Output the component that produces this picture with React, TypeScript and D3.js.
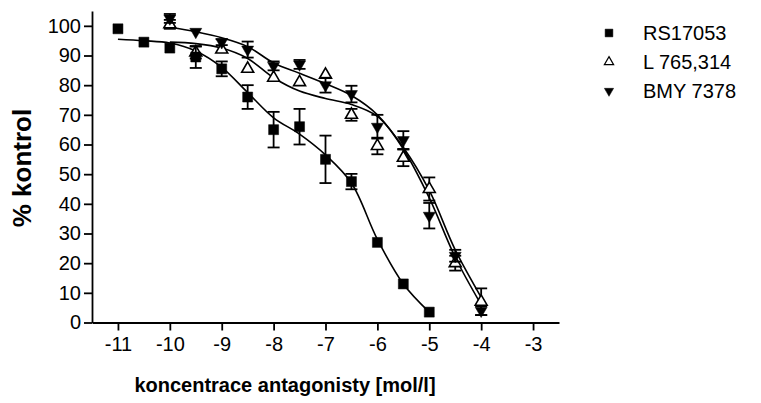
import { useRef, useEffect } from 'react';
import * as d3 from 'd3';

// x = log concentration, y = % of control
const concRS = [-11, -10.5, -10, -9.5, -9, -8.5, -8, -7.5, -7, -6.5, -6, -5.5, -5];
const meanRS = [99, 94.5, 92.5, 89.5, 85.5, 76, 65, 66, 55, 47.5, 27, 13, 3.5];
const errRS = [0, 0, 0, 3.7, 2.5, 4, 6, 6, 8, 2.6, 0, 0, 0];

const concL = [-10, -9.5, -9, -8.5, -8, -7.5, -7, -6.5, -6, -5.5, -5, -4.5, -4];
const meanL = [100.5, 91, 92, 85.5, 82.5, 81, 83.5, 70, 59.5, 55.5, 45, 20, 7];
const errL = [1.5, 2, 0, 0, 0, 0, 0, 2, 2.8, 2.8, 3.9, 2.5, 4.5];

const concBMY = [-10, -9.5, -9, -8.5, -8, -7.5, -7, -6.5, -6, -5.5, -5, -4.5, -4];
const meanBMY = [102.5, 98, 94.5, 92, 86.5, 87, 80, 77, 66, 61.5, 36, 22.5, 4];
const errBMY = [1.5, 0, 1, 2.7, 1.5, 1.5, 2.5, 2.8, 4, 3, 4.3, 2, 1.5];

// fitted curves
const fitRS = [[-11, 95.5], [-10.5, 95], [-10, 94.2], [-9.5, 91.5], [-9, 86], [-8.5, 77.5], [-8, 69], [-7.5, 63.5], [-7, 56.5], [-6.5, 47], [-6, 28], [-5.5, 13], [-5, 3.5]];
const fitL = [[-10, 94.5], [-9.5, 94], [-9, 92.5], [-8.5, 89], [-8, 82.5], [-7.5, 78], [-7, 75.5], [-6.5, 73.5], [-6, 69.5], [-5.5, 59], [-5, 44.5], [-4.5, 24.5], [-4, 8.5]];
const fitBMY = [[-10, 99.5], [-9.5, 98], [-9, 96], [-8.5, 93], [-8, 87.5], [-7.5, 84], [-7, 80.5], [-6.5, 76.5], [-6, 70], [-5.5, 58.5], [-5, 42], [-4.5, 22], [-4, 6]];

const xTicks = [-11, -10, -9, -8, -7, -6, -5, -4, -3];
const yTicks = [0, 10, 20, 30, 40, 50, 60, 70, 80, 90, 100];
const legendNames = ['RS17053', 'L 765,314', 'BMY 7378'];

export default function App() {
  const svgRef = useRef(null);

  useEffect(() => {
    const svg = d3.select(svgRef.current);
    svg.selectAll('*').remove();
    const font = 'Liberation Sans, Arial, sans-serif';

    const x = d3.scaleLinear().domain([-11.5, -2.5]).range([92, 559]);
    const y = d3.scaleLinear().domain([0, 105]).range([322.5, 11]);

    const yAxis = svg
      .append('g')
      .attr('transform', 'translate(92,0)')
      .call(d3.axisLeft(y).tickValues(yTicks).tickSize(8).tickSizeOuter(0).tickPadding(3));
    const xAxis = svg
      .append('g')
      .attr('transform', 'translate(0,322.5)')
      .call(
        d3
          .axisBottom(x)
          .tickValues(xTicks)
          .tickFormat((d) => String(d))
          .tickSize(8)
          .tickSizeOuter(0)
          .tickPadding(6)
      );
    [xAxis, yAxis].forEach((a) => {
      a.selectAll('path, line').attr('stroke', '#000').attr('stroke-width', 1.8);
      a.selectAll('text').attr('font-family', font).attr('font-size', 20).attr('fill', '#000');
    });

    svg
      .append('text')
      .attr('transform', 'translate(31,168) rotate(-90)')
      .attr('text-anchor', 'middle')
      .attr('font-family', font)
      .attr('font-weight', 'bold')
      .attr('font-size', 26)
      .text('% kontrol');
    svg
      .append('text')
      .attr('x', 285)
      .attr('y', 392)
      .attr('text-anchor', 'middle')
      .attr('font-family', font)
      .attr('font-weight', 'bold')
      .attr('font-size', 20)
      .text('koncentrace antagonisty [mol/l]');

    const line = d3
      .line()
      .x((d) => x(d[0]))
      .y((d) => y(d[1]))
      .curve(d3.curveCatmullRom.alpha(0.5));

    [fitRS, fitL, fitBMY].forEach((fit) => {
      svg
        .append('path')
        .attr('d', line(fit))
        .attr('fill', 'none')
        .attr('stroke', '#000')
        .attr('stroke-width', 1.6);
    });

    const series = [
      { conc: concL, mean: meanL, err: errL, shape: 'up' },
      { conc: concBMY, mean: meanBMY, err: errBMY, shape: 'down' },
      { conc: concRS, mean: meanRS, err: errRS, shape: 'square' },
    ];

    const markerPath = (shape, scale) =>
      shape === 'square'
        ? d3.symbol(d3.symbolSquare, 100 * scale)()
        : d3.symbol(d3.symbolTriangle, 62 * scale)();

    series.forEach((s) => {
      const g = svg.append('g');
      s.conc.forEach((c, i) => {
        const cx = x(c);
        const e = s.err[i];
        if (e > 0) {
          const y1 = y(s.mean[i] + e);
          const y2 = y(s.mean[i] - e);
          g.append('line').attr('x1', cx).attr('x2', cx).attr('y1', y1).attr('y2', y2);
          g.append('line').attr('x1', cx - 6).attr('x2', cx + 6).attr('y1', y1).attr('y2', y1);
          g.append('line').attr('x1', cx - 6).attr('x2', cx + 6).attr('y1', y2).attr('y2', y2);
        }
      });
      g.selectAll('line').attr('stroke', '#000').attr('stroke-width', 1.8);
      g.selectAll('.pt')
        .data(s.conc.map((c, i) => [c, s.mean[i]]))
        .join('path')
        .attr('class', 'pt')
        .attr('d', markerPath(s.shape, 1))
        .attr('transform', (d) => `translate(${x(d[0])},${y(d[1])})${s.shape === 'down' ? ' rotate(180)' : ''}`)
        .attr('fill', s.shape === 'up' ? '#fff' : '#000')
        .attr('stroke', '#000')
        .attr('stroke-width', s.shape === 'up' ? 1.6 : 0.5);
    });

    const legendShapes = ['square', 'up', 'down'];
    const legend = svg.append('g');
    legendNames.forEach((name, i) => {
      const ly = 33 + i * 29;
      const shape = legendShapes[i];
      legend
        .append('path')
        .attr('d', markerPath(shape, 0.6))
        .attr('transform', `translate(609,${ly})${shape === 'down' ? ' rotate(180)' : ''}`)
        .attr('fill', shape === 'up' ? '#fff' : '#000')
        .attr('stroke', '#000')
        .attr('stroke-width', shape === 'up' ? 1.2 : 0.5);
      legend
        .append('text')
        .attr('x', 643)
        .attr('y', ly + 7)
        .attr('font-family', font)
        .attr('font-size', 20)
        .text(name);
    });
  }, []);

  return (
    <svg
      ref={svgRef}
      width={761}
      height={403}
      style={{ position: 'absolute', left: 0, top: 0, background: '#fff' }}
    />
  );
}
